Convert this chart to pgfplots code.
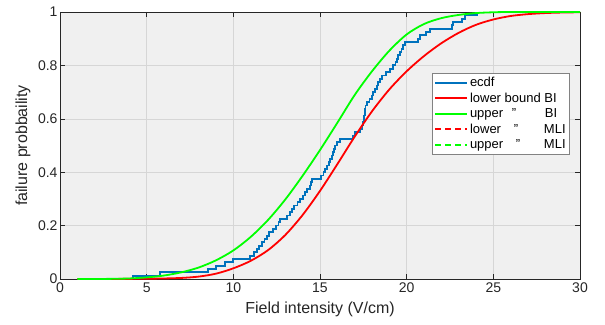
\documentclass[border=0pt]{standalone}
\usepackage{pgfplots}
\pgfplotsset{compat=1.18}
\usepackage{fontspec}
\setmainfont{Liberation Sans}
\definecolor{mblue}{rgb}{0,0.447,0.741}
\definecolor{axgray}{rgb}{0.15,0.15,0.15}
\definecolor{bggray}{RGB}{240,240,240}
\definecolor{gridgray}{RGB}{214,214,214}
\definecolor{leggray}{RGB}{130,130,130}
\begin{document}
\begin{tikzpicture}
\useasboundingbox (-60pt,-45pt) rectangle (545pt,279pt);
\begin{axis}[
  scale only axis, width=520pt, height=267pt,
  at={(0pt,0pt)}, anchor=south west,
  xmin=0, xmax=30, ymin=0, ymax=1,
  xtick={0,5,10,15,20,25,30},
  ytick={0,0.2,0.4,0.6,0.8,1},
  axis background/.style={fill=bggray},
  grid=major,
  major grid style={gridgray, line width=0.5pt},
  axis line style={axgray, line width=0.5pt},
  tick style={axgray, line width=0.5pt},
  tick align=inside, major tick length=5pt,
  ticklabel style={font=\fontsize{14}{16}\selectfont, text=axgray},
  yticklabel style={xshift=1pt},
  /pgf/number format/assume math mode=true,
  label style={font=\fontsize{16}{18}\selectfont, text=axgray},
  xlabel={Field intensity (V/cm)},
  ylabel={failure probbaility},
  xlabel style={at={(axis description cs:0.5,-0.112)}, anchor=center},
  ylabel style={at={(axis description cs:-0.0712,0.5)}, anchor=center},
  legend style={at={(0.7154,0.7715)}, anchor=north west, draw=leggray, fill=white,
    font=\fontsize{13}{15}\selectfont, cells={anchor=west}, inner xsep=2pt, inner ysep=2pt,
    row sep=0.8pt},
  legend image code/.code={\draw[mark repeat=2,mark phase=2] plot coordinates {(0pt,0pt) (16pt,0pt) (32pt,0pt)};},
]
\addplot[mblue, line width=1.8pt, const plot mark left, forget plot] coordinates {
(4.23,0) (4.23,0.0125) (5.77,0.025) (8.56,0.0375) (9.0,0.05) (9.5,0.0625)
(10.0,0.075) (10.96,0.0875) (11.2,0.1) (11.35,0.1125) (11.5,0.125) (11.65,0.1375)
(11.8,0.15) (11.92,0.1625) (12.05,0.175) (12.3,0.1875) (12.45,0.2) (12.6,0.2125)
(12.69,0.225) (13.1,0.2375) (13.25,0.25) (13.4,0.2625) (13.5,0.275) (13.7,0.2875)
(13.85,0.3) (14.0,0.3125) (14.14,0.325) (14.25,0.3375) (14.4,0.35) (14.5,0.3625)
(14.55,0.375) (15.06,0.3875) (15.2,0.4) (15.3,0.4125) (15.4,0.425) (15.5,0.4375)
(15.58,0.45) (15.7,0.4625) (15.75,0.475) (15.8,0.4875) (15.87,0.5) (16.0,0.5125)
(16.16,0.525) (16.92,0.5375) (17.0,0.55) (17.3,0.5625) (17.45,0.575) (17.5,0.5875)
(17.52,0.6) (17.55,0.6125) (17.58,0.625) (17.6,0.6375) (17.62,0.65) (17.7,0.6625)
(17.85,0.675) (17.98,0.6875) (18.05,0.7) (18.15,0.7125) (18.27,0.725) (18.35,0.7375)
(18.45,0.75) (18.56,0.7625) (18.8,0.775) (19.04,0.7875) (19.2,0.8) (19.35,0.8125)
(19.45,0.825) (19.52,0.8375) (19.6,0.85) (19.7,0.8625) (19.8,0.875) (19.9,0.8875)
(20.67,0.9) (20.77,0.9125) (21.1,0.925) (21.35,0.9375) (22.6,0.95) (22.69,0.9625)
(23.17,0.975) (23.37,0.9875) (24.04,1)
};
\addplot[red, line width=1.8pt, smooth, forget plot] coordinates {
(1,0) (4,0.0005) (5,0.001) (6,0.002) (7,0.004) (8,0.009) (9,0.02) (10,0.04)
(11,0.068) (12,0.108) (13,0.165) (14,0.24) (15,0.33) (16,0.43) (17,0.533)
(18,0.628) (19,0.71) (20,0.778) (21,0.835) (22,0.883) (23,0.922) (24,0.952)
(25,0.972) (26,0.985) (27,0.992) (28,0.996) (29,0.998) (30,0.999)
};
\addplot[green, line width=1.8pt, smooth, forget plot] coordinates {
(1,0) (2,0.0001) (3,0.0006) (4,0.002) (5,0.006) (6,0.013) (7,0.025) (8,0.043)
(9,0.07) (10,0.107) (11,0.1575) (12,0.221) (13,0.298) (14,0.387) (15,0.483)
(16,0.585) (17,0.689) (18,0.778) (19,0.855) (20,0.916) (21,0.955) (22,0.977)
(23,0.989) (24,0.996) (25,0.999) (26,1) (28,1) (30,1)
};
\addlegendimage{mblue, line width=1.8pt}
\addlegendentry{ecdf}
\addlegendimage{red, line width=1.8pt}
\addlegendentry{lower bound BI}
\addlegendimage{green, line width=1.8pt}
\addlegendentry{\makebox[75pt][l]{\makebox[44pt][l]{upper}\makebox[0pt]{"}}BI}
\addlegendimage{red, line width=1.8pt, dash pattern=on 6pt off 4pt}
\addlegendentry{\makebox[74pt][l]{\makebox[46pt][l]{lower}\makebox[0pt]{"}}MLI}
\addlegendimage{green, line width=1.8pt, dash pattern=on 6pt off 4pt}
\addlegendentry{\makebox[74pt][l]{\makebox[48pt][l]{upper}\makebox[0pt]{"}}MLI}
\end{axis}
\end{tikzpicture}
\end{document}
